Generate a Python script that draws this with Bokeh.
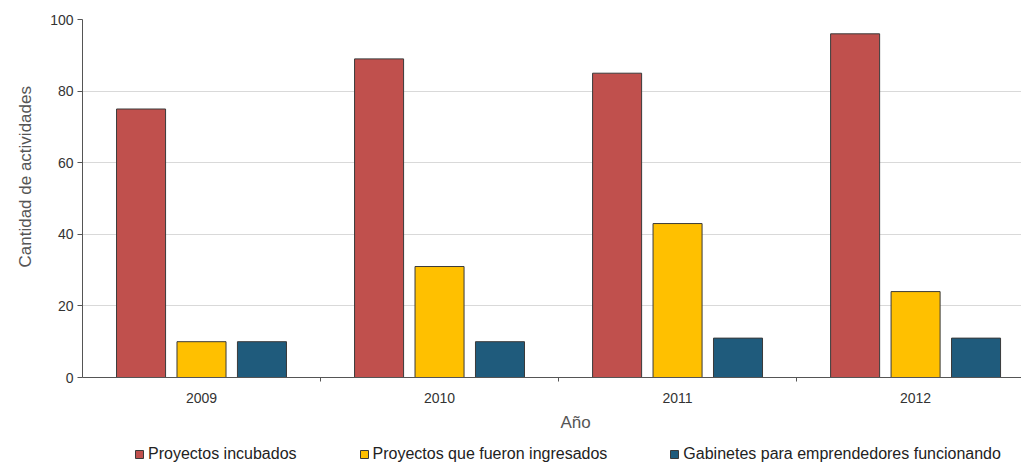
from bokeh.plotting import figure
from bokeh.layouts import column
from bokeh.models import Range1d, FixedTicker, Legend, LegendItem, ColumnDataSource, Title
from bokeh.transform import dodge
from bokeh.embed import file_html
from bokeh.resources import INLINE

years = ["2009", "2010", "2011", "2012"]
incubados = [75, 89, 85, 96]
ingresados = [10, 31, 43, 24]
gabinetes = [10, 10, 11, 11]

series_names = ["Proyectos incubados", "Proyectos que fueron ingresados",
                "Gabinetes para emprendedores funcionando"]
colors = ["#C0504D", "#FFC000", "#1F5B7C"]

pos = [i + 0.5 for i in range(len(years))]
src = ColumnDataSource(dict(pos=pos, incubados=incubados,
                            ingresados=ingresados, gabinetes=gabinetes))

FONT = "Liberation Sans"
EDGE = "#3a3a3a"

p = figure(frame_width=939, frame_height=358, output_backend="svg", toolbar_location=None,
           x_range=Range1d(0, 3.945), y_range=Range1d(0, 100),
           min_border_left=82, min_border_right=0, min_border_top=19,
           min_border_bottom=63)
p.outline_line_color = None

offsets = [-0.254, 0.0, 0.254]
fields = ["incubados", "ingresados", "gabinetes"]
for f, off, c in zip(fields, offsets, colors):
    p.vbar(x=dodge("pos", off, range=p.x_range), top=f, width=0.206,
           source=src, fill_color=c, line_color=EDGE, line_width=1)

# x axis
p.xaxis.ticker = FixedTicker(ticks=pos, minor_ticks=[1, 2, 3])
p.xaxis.major_label_overrides = {pos[i]: years[i] for i in range(len(years))}
p.xaxis.major_tick_out = 0
p.xaxis.major_tick_in = 0
p.xaxis.minor_tick_out = 4
p.xaxis.minor_tick_in = 0
p.xaxis.minor_tick_line_color = "#555555"
p.xaxis.axis_line_color = "#555555"
p.xaxis.major_label_standoff = 11
p.xgrid.grid_line_color = None

# y axis
p.yaxis.ticker = FixedTicker(ticks=[0, 20, 40, 60, 80, 100])
p.yaxis.major_tick_out = 5
p.yaxis.major_tick_in = 0
p.yaxis.minor_tick_line_color = None
p.yaxis.axis_line_color = "#555555"
p.yaxis.major_tick_line_color = "#555555"
p.yaxis.major_label_standoff = 4
p.ygrid.grid_line_color = "#d9d9d9"

for ax in (p.xaxis, p.yaxis):
    ax.major_label_text_font = FONT
    ax.major_label_text_font_size = "14px"
    ax.major_label_text_color = "#333333"

# axis titles
p.add_layout(Title(text="Año", align="left", offset=478, standoff=10,
                   text_font=FONT, text_font_size="17px", text_font_style="normal",
                   text_color="#555555"), "below")
p.add_layout(Title(text="Cantidad de actividades", align="left", offset=110, standoff=26,
                   text_font=FONT, text_font_size="17px", text_font_style="normal",
                   text_color="#555555"), "left")

# legend strip (placeholder renderers sit outside the visible range)
leg = figure(width=1021, height=23, output_backend="svg", toolbar_location=None,
             x_range=Range1d(0, 1), y_range=Range1d(0, 1),
             min_border=0, min_border_left=0, min_border_right=0,
             min_border_top=0, min_border_bottom=0)
leg.outline_line_color = None
leg.axis.visible = False
leg.grid.visible = False
dummy = ColumnDataSource(dict(x=[-5.0], top=[-5.0], bottom=[-6.0]))
leg_renderers = [leg.vbar(x="x", top="top", bottom="bottom", width=0.1, source=dummy,
                          fill_color=c, line_color=EDGE) for c in colors]
legend = Legend(items=[LegendItem(label=n, renderers=[r]) for n, r in zip(series_names, leg_renderers)],
                orientation="horizontal", location=(52, 0), spacing=62,
                glyph_width=10, glyph_height=10, label_standoff=4, padding=0,
                margin=0, border_line_color=None, background_fill_alpha=0,
                label_text_font=FONT, label_text_font_size="16px",
                label_text_color="#222222")
leg.add_layout(legend, "center")

layout = column(p, leg, spacing=0)
open("out.html", "w").write(file_html(layout, INLINE))
